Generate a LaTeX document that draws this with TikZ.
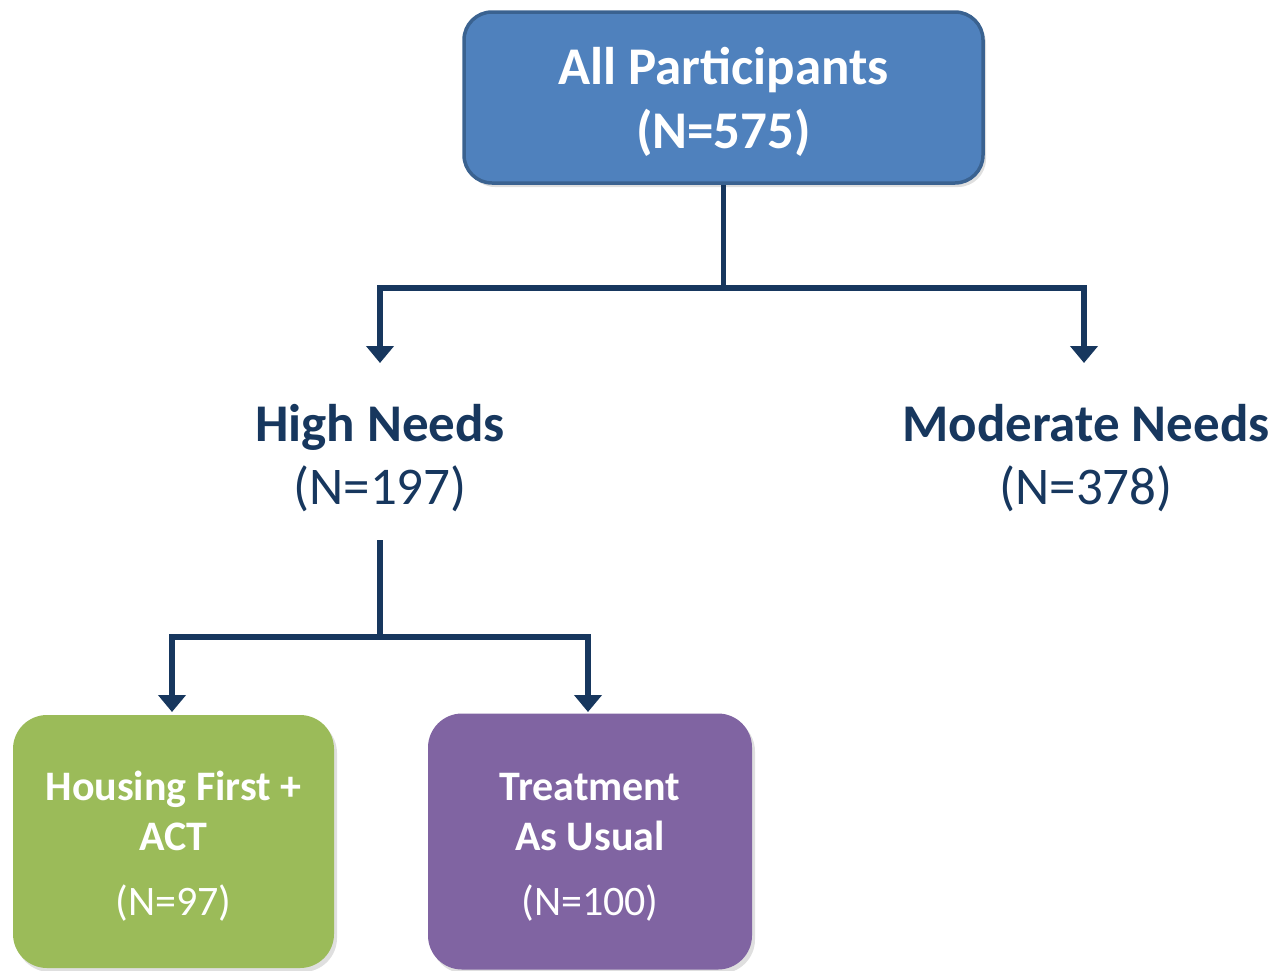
\documentclass[tikz,border=0pt]{standalone}
\usepackage{fontspec}
\setmainfont{Carlito}
\usetikzlibrary{arrows.meta,shadows}
\definecolor{navy}{HTML}{17375E}
\definecolor{topfill}{HTML}{4F81BD}
\definecolor{topline}{HTML}{3A6290}
\definecolor{greenfill}{HTML}{9BBB59}
\definecolor{purplefill}{HTML}{8064A2}
\tikzset{
  boxshadow/.style={drop shadow={opacity=0.25,shadow xshift=3pt,shadow yshift=-4pt}},
  topbox/.style={draw=topline,line width=3.5pt,fill=topfill,rounded corners=28pt,
    inner sep=0pt,boxshadow},
  toptext/.style={inner sep=0pt,text=white,align=center,
    font=\fontsize{53}{64}\selectfont\bfseries},
  armbox/.style={rounded corners=34pt,inner sep=0pt,boxshadow},
  armtext/.style={inner sep=0pt,text=white,align=center,
    font=\fontsize{42}{50}\selectfont},
  grouplabel/.style={inner sep=0pt,text=navy,align=center,
    font=\fontsize{53}{63}\selectfont},
  link/.style={draw=navy,line width=5.5pt},
  arr/.style={link,-{Triangle[width=27pt,length=17pt]}},
}
\begin{document}
\begin{tikzpicture}[x=1pt,y=-1pt]
\useasboundingbox (0,0) rectangle (1276,970);
% boxes
\node[topbox,minimum width=519pt,minimum height=171pt] (top) at (723.5,97.5) {};
\node[toptext] (toplbl) at ([yshift=-4pt]top.center) {All Participants\\(N=575)};
\node[grouplabel] (hn) at (380,458) {\textbf{High Needs}\\(N=197)};
\node[grouplabel] (mn) at (1086,458) {\textbf{Moderate Needs}\\(N=378)};
\node[armbox,fill=greenfill,minimum width=321pt,minimum height=253pt] (hf) at (173.5,841.5) {};
\node[armtext] (hflbl) at ([yshift=-5pt]hf.center)
  {\textbf{Housing First +}\\\textbf{ACT}\\[15pt](N=97)};
\node[armbox,fill=purplefill,minimum width=324pt,minimum height=256pt] (tau) at (590,841.5) {};
\node[armtext] (taulbl) at ([yshift=-6pt]tau.center)
  {\textbf{Treatment}\\\textbf{As Usual}\\[15pt](N=100)};
% connector coordinates
\coordinate (bus1) at (723.5,288);
\coordinate (hntip) at (380,363);
\coordinate (mntip) at (1084,363);
\coordinate (hnstart) at (380,540);
\coordinate (bus2) at (380,637);
\coordinate (hftip) at (172,712);
\coordinate (tautip) at (588,712);
% connectors
\draw[link] (top.south) -- (bus1);
\draw[arr] (bus1) -| (hntip);
\draw[arr] (bus1) -| (mntip);
\draw[link] (hnstart) -- (bus2);
\draw[arr] (bus2) -| (hftip);
\draw[arr] (bus2) -| (tautip);
\end{tikzpicture}
\end{document}
